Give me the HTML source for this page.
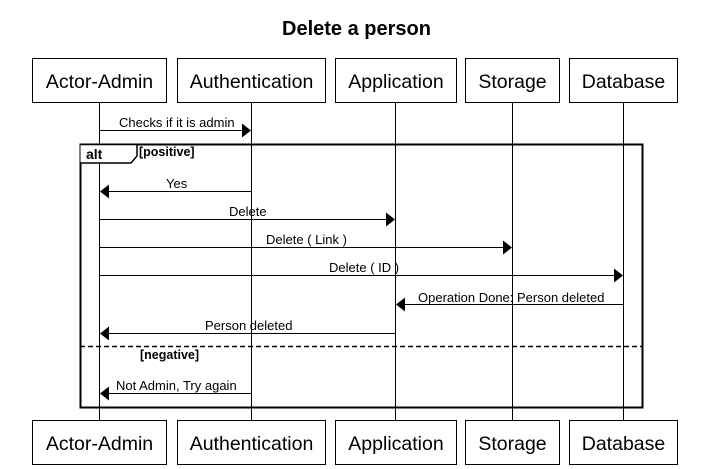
<!DOCTYPE html>
<html><head><meta charset="utf-8"><style>html,body{margin:0;padding:0;background:#fff}svg{display:block}text{font-family:"Liberation Sans",Arial,sans-serif}</style></head>
<body>
<svg width="711" height="469" viewBox="0 0 711 469" xmlns="http://www.w3.org/2000/svg">
<rect width="711" height="469" fill="#fff"/>
<text x="356.5" y="35" font-size="20" font-weight="bold" text-anchor="middle">Delete a person</text>
<g stroke="#000" stroke-width="1">
<line x1="99.5" y1="102" x2="99.5" y2="420"/>
<line x1="251.5" y1="102" x2="251.5" y2="420"/>
<line x1="395.5" y1="102" x2="395.5" y2="420"/>
<line x1="512.5" y1="102" x2="512.5" y2="420"/>
<line x1="623.5" y1="102" x2="623.5" y2="420"/>
</g>
<g fill="#fff" stroke="#000" stroke-width="1">
<rect x="32.5" y="58.5" width="134" height="44"/>
<rect x="177.5" y="58.5" width="148" height="44"/>
<rect x="335.5" y="58.5" width="121" height="44"/>
<rect x="465.5" y="58.5" width="94" height="44"/>
<rect x="569.5" y="58.5" width="108" height="44"/>
<rect x="32.5" y="420.5" width="134" height="44"/>
<rect x="177.5" y="420.5" width="148" height="44"/>
<rect x="335.5" y="420.5" width="121" height="44"/>
<rect x="465.5" y="420.5" width="94" height="44"/>
<rect x="569.5" y="420.5" width="108" height="44"/>
</g>
<g font-size="19.5" text-anchor="middle">
<text x="99.5" y="88">Actor-Admin</text><text x="251.5" y="88">Authentication</text><text x="396" y="88">Application</text><text x="512.5" y="88">Storage</text><text x="623.5" y="88">Database</text>
<text x="99.5" y="450">Actor-Admin</text><text x="251.5" y="450">Authentication</text><text x="396" y="450">Application</text><text x="512.5" y="450">Storage</text><text x="623.5" y="450">Database</text>
</g>
<rect x="80.5" y="144.5" width="562" height="263" fill="none" stroke="#000" stroke-width="2"/>
<path d="M80.5 144.5 H137 V156 L131 163 H80.5" fill="#fff" stroke="#000" stroke-width="1.5"/>
<text x="86" y="159" font-size="14" font-weight="bold">alt</text>
<text x="139" y="156" font-size="12.5" font-weight="bold">[positive]</text>
<line x1="80" y1="346.5" x2="643" y2="346.5" stroke="#000" stroke-width="1.5" stroke-dasharray="5,3"/>
<text x="140" y="359" font-size="12.5" font-weight="bold">[negative]</text>
<g stroke="#000" stroke-width="1">
<line x1="99" y1="130.5" x2="242" y2="130.5"/>
<line x1="108" y1="191.5" x2="251" y2="191.5"/>
<line x1="99" y1="219.5" x2="386" y2="219.5"/>
<line x1="99" y1="247.5" x2="503" y2="247.5"/>
<line x1="99" y1="275.5" x2="614" y2="275.5"/>
<line x1="404" y1="304.5" x2="623" y2="304.5"/>
<line x1="108" y1="333.5" x2="395" y2="333.5"/>
<line x1="108" y1="393.5" x2="251" y2="393.5"/>
</g>
<g fill="#000">
<polygon points="251,130.5 242,123.5 242,137.5"/>
<polygon points="100,191.5 109,184.5 109,198.5"/>
<polygon points="395,219.5 386,212.5 386,226.5"/>
<polygon points="512,247.5 503,240.5 503,254.5"/>
<polygon points="623,275.5 614,268.5 614,282.5"/>
<polygon points="396,304.5 405,297.5 405,311.5"/>
<polygon points="100,333.5 109,326.5 109,340.5"/>
<polygon points="100,393.5 109,386.5 109,400.5"/>
</g>
<g font-size="13">
<text x="119" y="127">Checks if it is admin</text>
<text x="166" y="188">Yes</text>
<text x="229" y="216">Delete</text>
<text x="266" y="244">Delete ( Link )</text>
<text x="329" y="272">Delete ( ID )</text>
<text x="418" y="302">Operation Done: Person deleted</text>
<text x="205" y="330">Person deleted</text>
<text x="116" y="390">Not Admin, Try again</text>
</g>
</svg>
</body></html>
